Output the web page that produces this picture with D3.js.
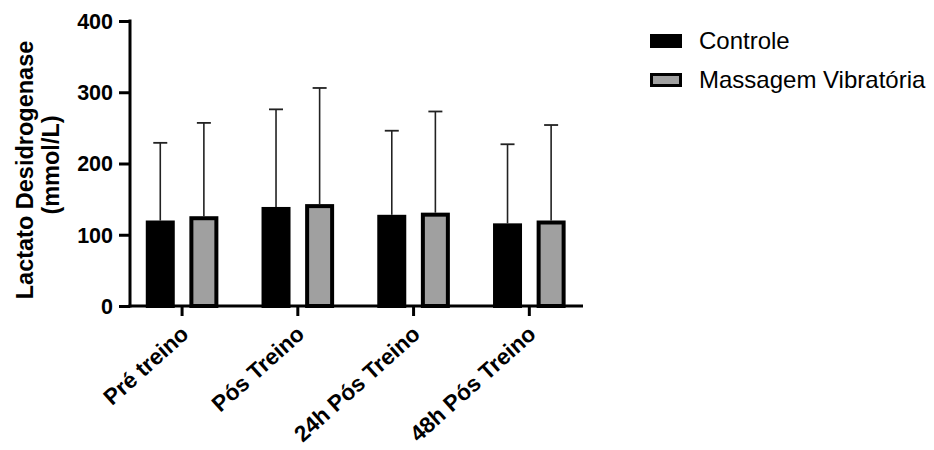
<!DOCTYPE html>
<html>
<head>
<meta charset="utf-8">
<script src="https://cdn.jsdelivr.net/npm/d3@7"></script>
<style>
  html, body { margin: 0; padding: 0; background: #fff; }
  svg { display: block; font-family: "Liberation Sans", Arial, sans-serif; }
</style>
</head>
<body>
<svg id="chart" width="934" height="450"></svg>
<script>
// ---- data ----
const categories = ["Pré treino", "Pós Treino", "24h Pós Treino", "48h Pós Treino"];
const seriesNames = ["Controle", "Massagem Vibratória"];
const controleMean = [120, 139, 128, 116];
const controleSD = [109, 137, 118, 111];
const massagemMean = [126, 143, 131, 120];
const massagemSD = [131, 163, 142, 134];
const yTicks = [0, 100, 200, 300, 400];
const yTitle = ["Lactato Desidrogenase", "(mmol/L)"];

const seriesFill = ["#000000", "#a0a0a0"];

const rows = categories.map((c, i) => ({
  cat: c,
  values: [
    { s: seriesNames[0], mean: controleMean[i], sd: controleSD[i], k: 0 },
    { s: seriesNames[1], mean: massagemMean[i], sd: massagemSD[i], k: 1 }
  ]
}));

const svg = d3.select("#chart");

const axisX0 = 130, axisX1 = 583;
const y = d3.scaleLinear().domain([0, 400]).range([306, 21]);
const x0 = d3.scaleBand().domain(categories).range([124.2, 587.2]);
const x1 = d3.scaleBand().domain(seriesNames).range([0, x0.bandwidth()])
  .paddingInner(0.335).paddingOuter(0.495);

// bars
const g = svg.append("g");
const groups = g.selectAll("g.grp").data(rows).join("g")
  .attr("transform", d => `translate(${x0(d.cat)},0)`);

// error bars (drawn first, so bars cover the lower part)
groups.selectAll("g.err").data(d => d.values).join("g").each(function(d) {
  const cx = x1(d.s) + x1.bandwidth() / 2;
  const sel = d3.select(this);
  sel.append("line")
    .attr("x1", cx).attr("x2", cx)
    .attr("y1", y(d.mean)).attr("y2", y(d.mean + d.sd))
    .attr("stroke", "#222").attr("stroke-width", 1.6);
  sel.append("line")
    .attr("x1", cx - 7).attr("x2", cx + 7)
    .attr("y1", y(d.mean + d.sd)).attr("y2", y(d.mean + d.sd))
    .attr("stroke", "#222").attr("stroke-width", 1.8);
});

const bw = 4;
groups.selectAll("rect.bar").data(d => d.values).join("rect")
  .attr("class", "bar")
  .attr("x", d => x1(d.s) + bw / 2)
  .attr("y", d => y(d.mean) + bw / 2)
  .attr("width", x1.bandwidth() - bw)
  .attr("height", d => y(0) - y(d.mean) - bw / 2)
  .attr("fill", d => seriesFill[d.k])
  .attr("stroke", "#000")
  .attr("stroke-width", bw);

// y axis
const yAxis = d3.axisLeft(y).tickValues(yTicks).tickSize(11).tickPadding(6).tickFormat(d3.format("d"));
const gy = svg.append("g").attr("transform", `translate(${axisX0},0)`).call(yAxis);
gy.select(".domain").remove();
gy.selectAll(".tick line").attr("stroke", "#000").attr("stroke-width", 3);
gy.selectAll(".tick text").attr("font-size", 21.5).attr("font-weight", "bold")
  .attr("fill", "#000").attr("dy", "0.34em")
  .attr("font-family", "Liberation Sans, Arial, sans-serif");
svg.append("line").attr("x1", axisX0).attr("x2", axisX0)
  .attr("y1", y(400) - 1.5).attr("y2", y(0) + 1.5)
  .attr("stroke", "#000").attr("stroke-width", 3);

// x axis
const xAxis = d3.axisBottom(x0).tickSize(10).tickSizeOuter(0).tickFormat("");
const gx = svg.append("g").attr("transform", `translate(0,${y(0)})`).call(xAxis);
gx.select(".domain").remove();
gx.selectAll(".tick line").attr("stroke", "#000").attr("stroke-width", 3);
svg.append("line").attr("x1", axisX0 - 1.5).attr("x2", axisX1)
  .attr("y1", y(0)).attr("y2", y(0))
  .attr("stroke", "#000").attr("stroke-width", 3);

// x labels
svg.append("g").selectAll("text").data(categories).join("text")
  .attr("transform", d => `translate(${x0(d) + x0.bandwidth() / 2 + 8},${y(0) + 30}) rotate(-42)`)
  .attr("text-anchor", "end")
  .attr("font-size", 22.5).attr("font-weight", "bold").attr("fill", "#000")
  .text(d => d);

// y title
svg.append("text")
  .attr("transform", `translate(33,170) rotate(-90)`)
  .attr("text-anchor", "middle")
  .attr("font-size", 23.5).attr("font-weight", "bold").attr("fill", "#000")
  .text(yTitle[0]);
svg.append("text")
  .attr("transform", `translate(59,165) rotate(-90)`)
  .attr("text-anchor", "middle")
  .attr("font-size", 23.5).attr("font-weight", "bold").attr("fill", "#000")
  .text(yTitle[1]);

// legend
const leg = svg.append("g").selectAll("g").data(seriesNames).join("g")
  .attr("transform", (d, i) => `translate(650,${41 + i * 39})`);
leg.append("rect")
  .attr("x", 1.5).attr("y", -5.5).attr("width", 29).attr("height", 11)
  .attr("fill", (d, i) => seriesFill[i]).attr("stroke", "#000").attr("stroke-width", 3);
leg.append("text")
  .attr("x", 49).attr("y", 0).attr("dy", "0.35em")
  .attr("font-size", 24).attr("fill", "#000")
  .text(d => d);
</script>
</body>
</html>
